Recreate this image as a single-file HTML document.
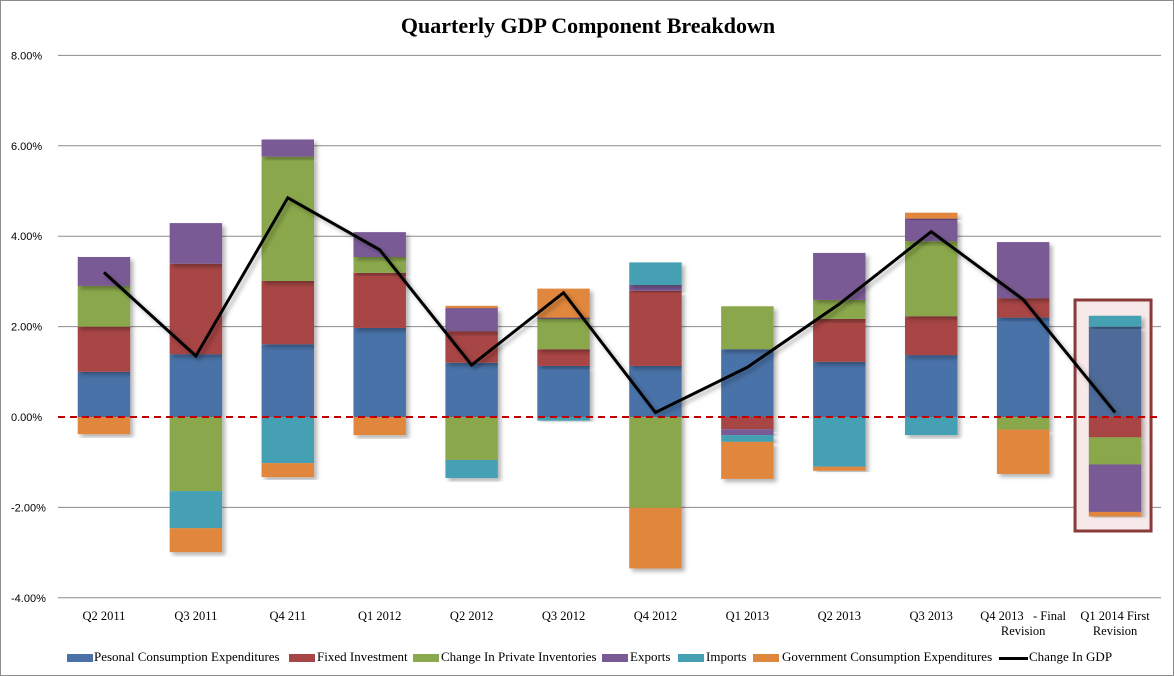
<!DOCTYPE html>
<html><head><meta charset="utf-8"><style>
body{margin:0;background:#fff;}
#wrap{position:relative;width:1172px;height:674px;border:1px solid #8c8c8c;overflow:hidden;font-family:"Liberation Serif",serif;}
.lg{position:absolute;top:648px;font-size:13px;color:#000;white-space:nowrap;}
.sw{position:absolute;top:653px;height:8px;width:26px;}
</style></head><body>
<div id="wrap">
<div style="position:absolute;top:12px;left:0;width:1174px;text-align:center;font-weight:bold;font-size:22px;">Quarterly GDP Component Breakdown</div>
<svg id="chart" width="1174" height="640" style="position:absolute;left:0;top:0">
<defs><filter id="sh" x="-20%" y="-20%" width="140%" height="140%"><feDropShadow dx="3" dy="3" stdDeviation="2" flood-color="#000" flood-opacity="0.3"/></filter></defs>
</svg>
<div class="sw" style="left:66px;background:#4a72a8"></div><div class="lg" style="left:93px">Pesonal Consumption Expenditures</div>
<div class="sw" style="left:288px;background:#a84545"></div><div class="lg" style="left:316px">Fixed Investment</div>
<div class="sw" style="left:412px;background:#8aa84c"></div><div class="lg" style="left:440px">Change In Private Inventories</div>
<div class="sw" style="left:601px;background:#7a5a94"></div><div class="lg" style="left:629px">Exports</div>
<div class="sw" style="left:677px;background:#45a0b4"></div><div class="lg" style="left:705px">Imports</div>
<div class="sw" style="left:752px;background:#e0873e"></div><div class="lg" style="left:781px">Government Consumption Expenditures</div>
<div style="position:absolute;left:998px;top:656px;width:29px;height:3px;background:#000"></div><div class="lg" style="left:1028px">Change In GDP</div>
</div>
<script>
const categories=["Q2 2011","Q3 2011","Q4 211","Q1 2012","Q2 2012","Q3 2012","Q4 2012","Q1 2013","Q2 2013","Q3 2013","Q4 2013   - Final|Revision","Q1 2014 First|Revision"];
const pce=[1.0,1.39,1.61,1.97,1.2,1.13,1.13,1.5,1.22,1.37,2.2,2.0];
const fixedInv=[1.0,2.0,1.4,1.22,0.7,0.37,1.66,-0.27,0.95,0.86,0.43,-0.45];
const inventories=[0.9,-1.64,2.75,0.35,-0.95,0.67,-2.01,0.95,0.42,1.66,-0.28,-0.6];
const exportsV=[0.64,0.9,0.38,0.55,0.51,0.03,0.13,-0.13,1.04,0.5,1.24,-1.05];
const importsV=[0,-0.82,-1.02,0,-0.4,-0.08,0.5,-0.15,-1.1,-0.4,0,0.24];
const gov=[-0.38,-0.53,-0.31,-0.4,0.05,0.64,-1.34,-0.82,-0.09,0.13,-0.98,-0.1];
const gdp=[3.2,1.35,4.85,3.7,1.15,2.75,0.1,1.1,2.5,4.1,2.6,0.1];
const yTicks=[8,6,4,2,0,-2,-4];
const series=[pce,fixedInv,inventories,exportsV,importsV,gov];
const colors=["#4a72a8","#a84545","#8aa84c","#7a5a94","#45a0b4","#e0873e"];
const names=["pce","fixed-investment","inventories","exports","imports","government"];
const NS="http://www.w3.org/2000/svg";
const svg=document.getElementById('chart');
const x0=57,x1=1160,bw=92*0.57;
const y=v=>416-v*45.2;
const xc=i=>x0+(i+0.5)*(x1-x0)/categories.length;
function el(t,a){const e=document.createElementNS(NS,t);for(const k in a)e.setAttribute(k,a[k]);svg.appendChild(e);return e;}
yTicks.forEach(t=>{
 if(t!==0){const l=el('line',{x1:x0,x2:x1,y1:y(t),y2:y(t),stroke:'#8c8c8c','stroke-width':1});
 
 }
 const tx=el('text',{x:10,y:y(t)+4,'font-size':11,'font-family':'Liberation Sans, sans-serif',fill:'#000'});
 tx.textContent=t.toFixed(2)+'%';
 
 
});
const hb=el('rect',{x:xc(11)-40,y:299,width:76,height:231,fill:'#f7e9e9',stroke:'#8b3a3a','stroke-width':3});


categories.forEach((c,i)=>{
 let pos=0,neg=0;
 series.forEach((s,k)=>{
  const v=s[i]; if(!v)return;
  let top,bot;
  if(v>0){bot=pos;top=pos+v;pos=top;}else{top=neg;bot=neg+v;neg=bot;}
  let col=colors[k]; if(i===11&&k===0)col='#4e6b98';
  const r=el('rect',{x:xc(i)-bw/2,y:y(top),width:bw,height:y(bot)-y(top),fill:col,filter:'url(#sh)'});
  
  
 });
 c.split('|').forEach((ln,j)=>{
  const t=el('text',{x:xc(i),y:619+j*15,'font-size':12.5,'text-anchor':'middle',fill:'#000',style:'white-space:pre'});
  t.textContent=ln;
  
  
 });
});
const z=el('line',{x1:x0,x2:x1,y1:y(0),y2:y(0),stroke:'#c00000','stroke-width':2,'stroke-dasharray':'7,5'});


const p=el('polyline',{points:gdp.map((v,i)=>xc(i)+','+y(v)).join(' '),fill:'none',stroke:'#000','stroke-width':3,filter:'url(#sh)'});


</script>
</body></html>
